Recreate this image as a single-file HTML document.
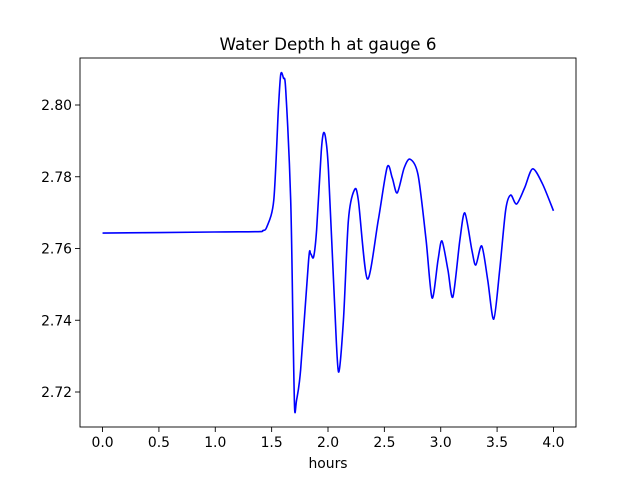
<!DOCTYPE html>
<html><head><meta charset="utf-8"><style>
body{margin:0;background:#fff}
svg{display:block;font-family:"DejaVu Sans","Liberation Sans",sans-serif}
</style></head><body>
<svg id="c" width="640" height="480"></svg>
<script>
const hours=[0,0.989,1.380,1.422,1.457,1.519,1.560,1.581,1.605,1.625,1.669,1.690,1.704,1.720,1.757,1.828,1.846,1.872,1.899,1.940,1.960,1.980,2.004,2.057,2.093,2.137,2.181,2.234,2.269,2.349,2.446,2.525,2.570,2.614,2.675,2.728,2.799,2.870,2.923,2.976,3.011,3.064,3.108,3.170,3.214,3.276,3.311,3.364,3.417,3.470,3.523,3.576,3.620,3.673,3.744,3.815,3.903,4.000];
const depth=[2.7643,2.7646,2.7647,2.7650,2.7660,2.7735,2.7990,2.8086,2.8075,2.8042,2.7735,2.7370,2.7153,2.7175,2.7261,2.7568,2.7585,2.7576,2.7652,2.7870,2.7922,2.7905,2.7819,2.7456,2.7256,2.7401,2.7679,2.7763,2.7735,2.7515,2.7679,2.7827,2.7797,2.7755,2.7824,2.7849,2.7805,2.7624,2.7462,2.7568,2.7621,2.7540,2.7465,2.7624,2.7699,2.7596,2.7554,2.7607,2.7512,2.7403,2.7540,2.7707,2.7749,2.7724,2.7769,2.7822,2.7780,2.7705];
const xTicks=[0,0.5,1,1.5,2,2.5,3,3.5,4];
const xTickLabels=["0.0","0.5","1.0","1.5","2.0","2.5","3.0","3.5","4.0"];
const yTicks=[2.72,2.74,2.76,2.78,2.80];
const yTickLabels=["2.72","2.74","2.76","2.78","2.80"];
const L=80,R=576,T=58,B=427;
const xMin=-0.2,xMax=4.2,yMin=2.72-35/3587.5,yMax=2.80+47/3587.5;
const X=v=>L+(v-xMin)/(xMax-xMin)*(R-L);
const Y=v=>B-(v-yMin)/(yMax-yMin)*(B-T);
const svg=document.getElementById('c');const NS='http://www.w3.org/2000/svg';
function mk(tag,attrs,parent){const e=document.createElementNS(NS,tag);for(const k in attrs)e.setAttribute(k,attrs[k]);(parent||svg).appendChild(e);return e;}
const pts=hours.map((h,i)=>[X(h),Y(depth[i])]);
let d='M'+pts[0][0]+','+pts[0][1];
const k=1/7;
for(let i=0;i<pts.length-1;i++){const p0=pts[Math.max(0,i-1)],p1=pts[i],p2=pts[i+1],p3=pts[Math.min(pts.length-1,i+2)];
const c1=[p1[0]+(p2[0]-p0[0])*k,p1[1]+(p2[1]-p0[1])*k],c2=[p2[0]-(p3[0]-p1[0])*k,p2[1]-(p3[1]-p1[1])*k];
d+=`C${c1[0]},${c1[1]} ${c2[0]},${c2[1]} ${p2[0]},${p2[1]}`;}
const line=mk('path',{d:d,fill:'none',stroke:'#0000ff','stroke-width':1.6});


const frame=mk('rect',{x:L,y:T,width:R-L,height:B-T,fill:'none',stroke:'#000','stroke-width':0.9});


xTicks.forEach((v,i)=>{const x=X(v);mk('line',{x1:x,x2:x,y1:B,y2:B+5,stroke:'#000','stroke-width':0.9});
const t=mk('text',{x:x,y:B+20,'text-anchor':'middle','font-size':13.9});t.textContent=xTickLabels[i];

});
yTicks.forEach((v,i)=>{const y=Y(v);mk('line',{x1:L-5,x2:L,y1:y,y2:y,stroke:'#000','stroke-width':0.9});
const t=mk('text',{x:L-8,y:y+5,'text-anchor':'end','font-size':13.9});t.textContent=yTickLabels[i];

});
const xl=mk('text',{x:(L+R)/2,y:468,'text-anchor':'middle','font-size':13.9});xl.textContent='hours';


const ti=mk('text',{x:(L+R)/2,y:T-8,'text-anchor':'middle','font-size':16.7});ti.textContent='Water Depth h at gauge 6';


</script>
</body></html>
